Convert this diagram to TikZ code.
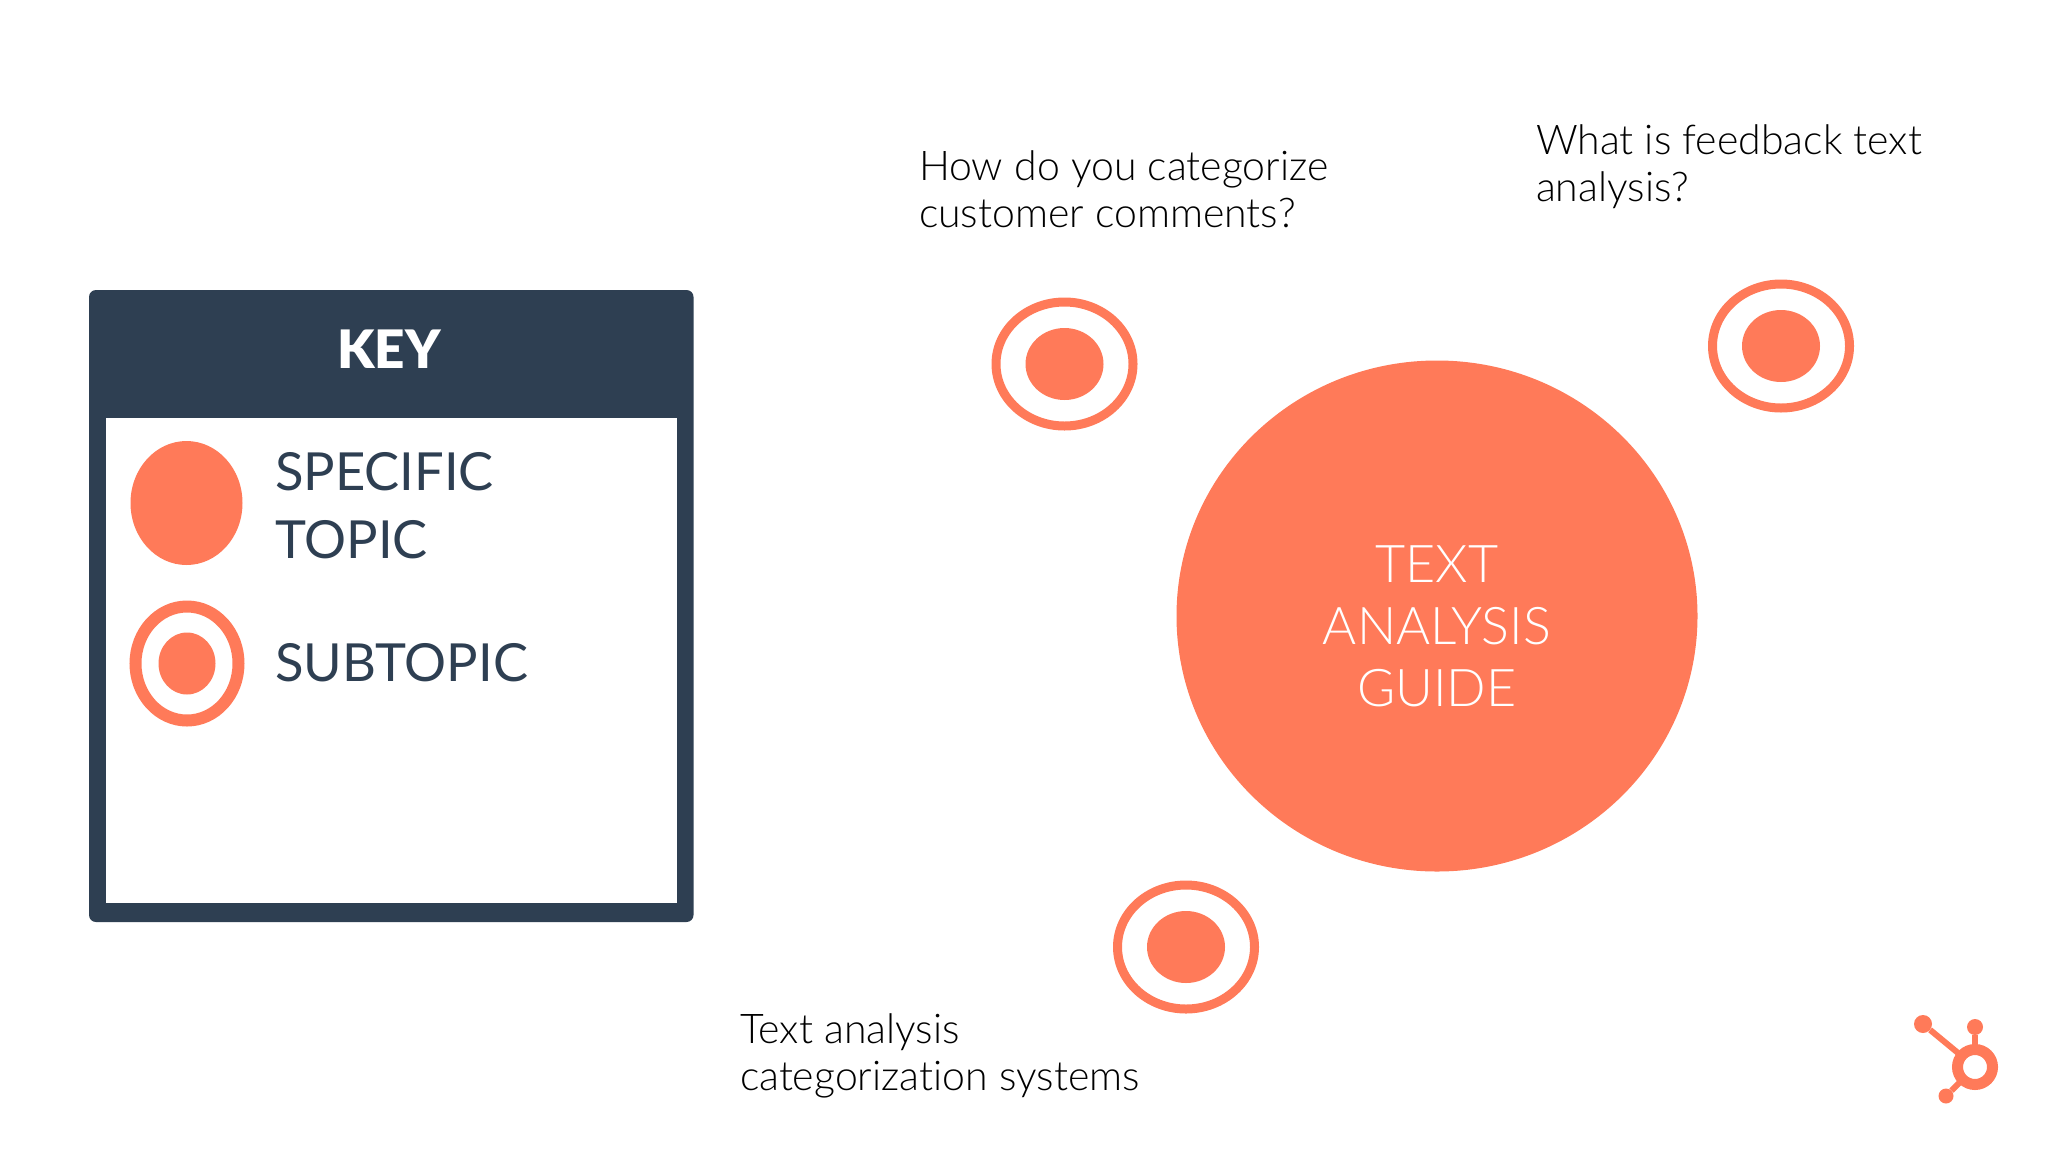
\documentclass[tikz,border=0pt]{standalone}
\usepackage{fontspec}
\setmainfont[Ligatures=NoCommon,Contextuals=NoAlternate]{Lato Light}
\newfontfamily\keybold{Lato Black}
\newfontfamily\keyreg[Ligatures=NoCommon]{Lato}
\usetikzlibrary{shapes.geometric}
\definecolor{coral}{HTML}{FF7A59}
\definecolor{slatekey}{HTML}{2E3F52}
\tikzset{
  x=1pt,y=-1pt,
  blob/.style={ellipse,inner sep=0pt,outer sep=0pt,fill=coral},
  ringblob/.style={ellipse,inner sep=0pt,outer sep=0pt,draw=coral,line width=9pt,fill=white,minimum width=137pt,minimum height=124pt},
  coredot/.style={ellipse,inner sep=0pt,outer sep=0pt,fill=coral,minimum width=78pt,minimum height=72pt},
  question/.style={inner sep=0pt,outer sep=0pt,anchor=north west,align=left,text=black,font=\fontsize{41}{47}\selectfont},
  keylabel/.style={inner sep=0pt,outer sep=0pt,anchor=north west,align=left,text=slatekey,font=\keyreg\fontsize{52.5}{68}\selectfont},
  stem/.style={draw=coral,line width=6pt},
}
\begin{document}
\begin{tikzpicture}
\useasboundingbox (0,0) rectangle (2048,1152);
\fill[white] (0,0) rectangle (2048,1152);
% key panel
\fill[slatekey,rounded corners=7pt] (89,290) rectangle (693.5,922);
\fill[white] (106,418) rectangle (676.5,902.5);
\node[inner sep=0pt,text=white,font=\keybold\fontsize{53}{60}\selectfont] (keytitle) at (389,349) {KEY};
\node[blob,minimum width=112pt,minimum height=124pt] (keytopic) at (186.5,503) {};
\node[keylabel] (keytopictext) at (275,452) {SPECIFIC\\TOPIC};
\node[ringblob,minimum width=103pt,minimum height=114pt,line width=12pt] (keysub) at (187,663.5) {};
\node[blob,minimum width=57pt,minimum height=62pt] (keysubdot) at (187,663.5) {};
\node[keylabel] (keysubtext) at (275,643) {SUBTOPIC};
% main circle
\node[blob,minimum width=521pt,minimum height=511pt] (guide) at (1437,616) {};
\node[inner sep=0pt,text=white,align=center,font=\fontsize{52}{62}\selectfont] (guidetext) at (1437,626) {TEXT\\ANALYSIS\\GUIDE};
% subtopics
\node[ringblob] (ringa) at (1064.5,364) {};
\node[coredot] (dota) at (1064.5,364) {};
\node[ringblob] (ringb) at (1781,346) {};
\node[coredot] (dotb) at (1781,346) {};
\node[ringblob] (ringc) at (1186,947) {};
\node[coredot] (dotc) at (1186,947) {};
\node[question] (qa) at (919,151) {How do you categorize\\customer comments?};
\node[question] (qb) at (1536,125) {What is feedback text\\analysis?};
\node[question] (qc) at (740,1014) {Text analysis\\categorization systems};
% logo
\node[circle,inner sep=0pt,outer sep=0pt,draw=coral,line width=11pt,minimum size=35pt] (hubring) at (1975,1067) {};
\node[circle,fill=coral,inner sep=0pt,minimum size=18pt] (hubA) at (1923,1024) {};
\node[circle,fill=coral,inner sep=0pt,minimum size=16pt] (hubB) at (1975,1027) {};
\node[circle,fill=coral,inner sep=0pt,minimum size=15pt] (hubC) at (1946,1096) {};
\draw[stem] (hubA) -- (hubring);
\draw[stem] (hubB) -- (hubring);
\draw[stem] (hubC) -- (hubring);
\end{tikzpicture}
\end{document}
